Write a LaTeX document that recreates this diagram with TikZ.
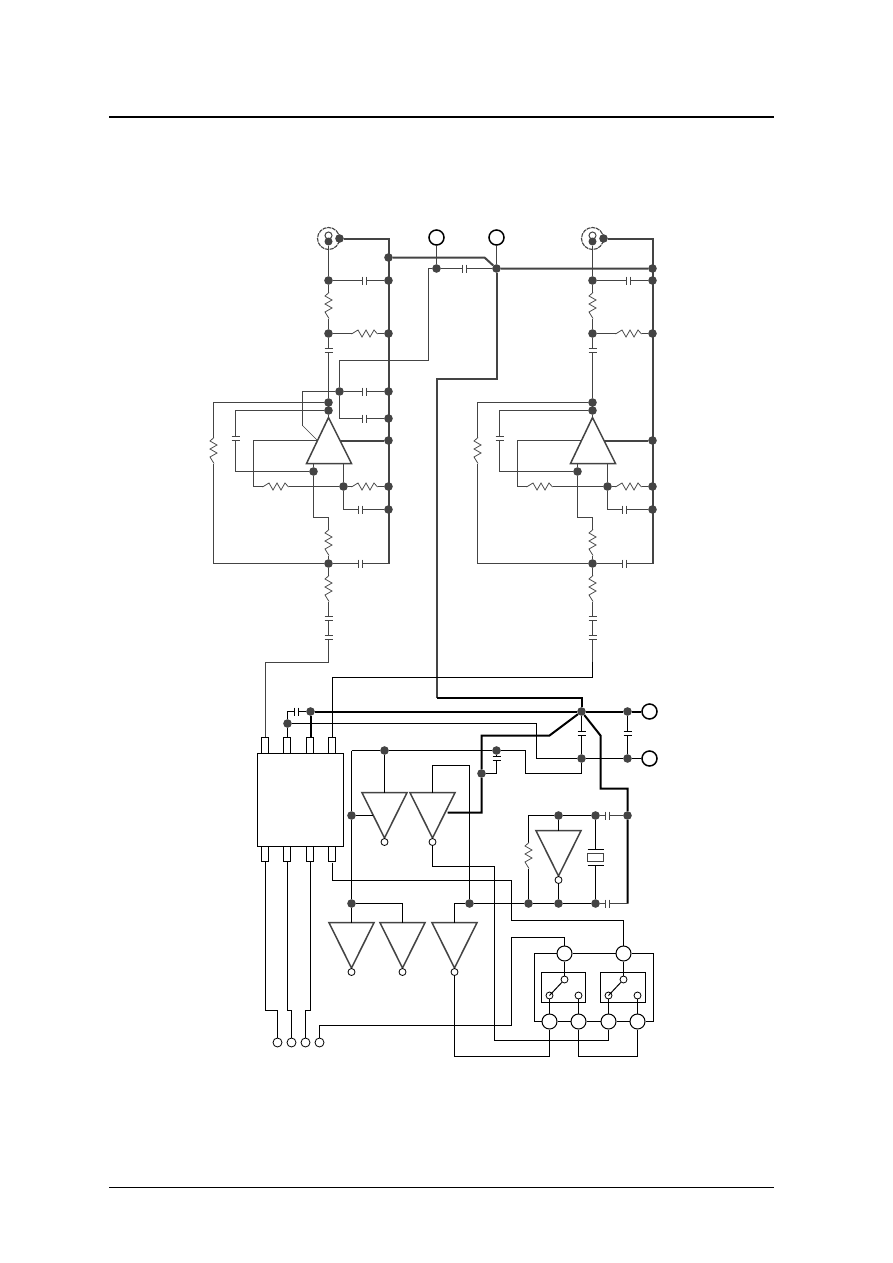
\documentclass[tikz,border=0pt]{standalone}
\usetikzlibrary{calc}
\definecolor{wiregray}{HTML}{444444}
\tikzset{
  wire/.style={line width=1pt},
  heavy/.style={line width=2pt},
  medium/.style={line width=1.5pt},
  dotnode/.style={circle,fill=wiregray,inner sep=0pt,minimum size=8.6pt},
  term/.style={circle,draw=black,fill=white,line width=1.5pt,inner sep=0pt,minimum size=15pt},
  cnode/.style={circle,draw=black,fill=white,line width=1pt,inner sep=0pt,minimum size=15pt},
  small/.style={circle,draw=black,fill=white,line width=0.8pt,inner sep=0pt,minimum size=7pt},
  pad/.style={circle,draw=black,fill=white,line width=0.8pt,inner sep=0pt,minimum size=9pt},
  pinbox/.style={rectangle,draw=black,fill=white,line width=1pt,inner sep=0pt,minimum width=7pt},
  tri/.style={draw=wiregray,line width=1.5pt,fill=white},
  res/.pic={
    \fill[white] (-13,-0.9) rectangle (13,0.9);
    \draw[line width=0.75pt] (-13,0.5) -- (-6.5,-3.5) -- (-2.5,3.5) -- (1.5,-3.5) -- (5.5,3.5) -- (9.5,-3.5) -- (13,0.5);
  },
  cap/.pic={
    \fill[white] (-2,-0.9) rectangle (2,0.9);
    \draw[wire] (-2,-4) -- (-2,4) (2,-4) -- (2,4);
  },
  crystal/.pic={
    \fill[white] (-13,-8) rectangle (13,8);
    \draw[wire] (-8,-8) -- (8,-8) (-8,8) -- (8,8);
    \draw[medium,draw=wiregray] (-8,-4) rectangle (8,4);
  }
}
\newcommand\snap[2]{\pgfmathsetmacro\sx{floor(#1)+0.5}\pgfmathsetmacro\sy{floor(#2)+0.5}}
\newcommand\noden[4]{\snap{#3}{#4}\node[#1] (#2) at (\sx,\sy) {};}
\newcommand\dotn[3]{\noden{dotnode}{#1}{#2}{#3}}
\newcommand\corner[3]{\snap{#2}{#3}\coordinate (#1) at (\sx,\sy);}
\newcommand\capH[3][]{\snap{#2}{#3}\pic[#1] at (\sx,\sy) {cap};}
\newcommand\capV[3][]{\snap{#2}{#3}\pic[rotate=90,#1] at (\sx,\sy) {cap};}
\newcommand\resH[3][]{\snap{#2}{#3}\pic[#1] at (\sx,\sy) {res};}
\newcommand\resV[3][]{\snap{#2}{#3}\pic[rotate=90,#1] at (\sx,\sy) {res};}
% downward inverter: name, centre x, top y
\newcommand\invtri[3]{%
  \snap{#2}{#3}%
  \coordinate (#1top) at (\sx,\sy);
  \coordinate (#1apex) at (\sx,\sy+45.5);
  \draw[tri] (\sx-22.6,\sy) -- (\sx+22.6,\sy) -- (#1apex) -- cycle;
  \node[small] (#1b) at (\sx,\sy+49.5) {};
}
\newcommand\channel[2]{%
\begin{scope}[xshift=#2pt]
  \noden{circle,draw=wiregray,dash pattern=on 4pt off 0.8pt,line width=1.1pt,inner sep=0pt,minimum size=22pt}{#1ring}{328}{238}
  \noden{circle,draw=wiregray,line width=1pt,inner sep=0pt,minimum size=7pt}{#1inner}{328}{235}
  \noden{dotnode,minimum size=8pt}{#1pin}{328}{241}
  \dotn{#1tab}{339}{238}
  \dotn{#1a}{328}{280} \dotn{#1ra}{388}{280}
  \dotn{#1b}{328}{333} \dotn{#1rb}{388}{333}
  \dotn{#1c}{328}{402} \dotn{#1d}{328}{410}
  \dotn{#1rc}{388}{440}
  \dotn{#1e}{343}{486} \dotn{#1re}{388}{486}
  \dotn{#1rf}{388}{509}
  \dotn{#1g}{313}{471}
  \dotn{#1h}{328}{563}
  \corner{#1railtop}{388}{238} \corner{#1railbot}{388}{563}
  \corner{#1apex}{328}{417}
  \corner{#1out}{338}{440} \corner{#1in}{317}{440}
  \corner{#1fb}{253}{440} \corner{#1fc}{253}{486}
  \corner{#1eu}{343}{463} \corner{#1ed}{343}{509}
  \corner{#1gu}{313}{463} \corner{#1gd}{313}{517} \corner{#1ge}{328}{517}
  \corner{#1hl}{213}{563} \corner{#1hu}{213}{402}
  \corner{#1dl}{235}{410} \corner{#1dd}{235}{471}
  \corner{#1tail}{328}{661}
  \corner{#1baseL}{306}{463} \corner{#1baseR}{351}{463}
  \begin{scope}[color=wiregray]
  \draw[wire] (#1pin) -- (#1a) -- (#1b) -- (#1c) -- (#1d) -- (#1apex);
  \draw[wire] (#1a) -- (#1ra);
  \draw[wire] (#1b) -- (#1rb);
  \draw[wire] (#1in) -- (#1fb) -- (#1fc) -- (#1e) -- (#1re);
  \draw[wire] (#1eu) -- (#1e) -- (#1ed) -- (#1rf);
  \draw[wire] (#1gu) -- (#1g) -- (#1gd) -- (#1ge) -- (#1h);
  \draw[wire] (#1h) -- (#1railbot);
  \draw[wire] (#1h) -- (#1hl) -- (#1hu) -- (#1c);
  \draw[wire] (#1d) -- (#1dl) -- (#1dd) -- (#1g);
  \draw[wire] (#1h) -- (#1tail);
  \draw[heavy] (#1tab) -- (#1railtop) -- (#1railbot);
  \draw[heavy] (#1out) -- (#1rc);
  \draw[tri] (#1baseL) -- (#1baseR) -- (#1apex) -- cycle;
  \capH{364}{280}
  \resV{328}{305}
  \resH{364}{333}
  \capV{328}{350}
  \resH{275}{486}
  \resH{364}{486}
  \capH{360}{509}
  \resV{328}{542}
  \capH{360}{563}
  \resV{213}{450}
  \capV{235}{438}
  \resV{328}{588}
  \capV{328}{618}
  \capV{328}{637}
  \end{scope}
\end{scope}}
\begin{document}
\begin{tikzpicture}[x=1pt,y=-1pt]
\useasboundingbox (0,0) rectangle (892,1263);
\fill[white] (0,0) rectangle (892,1263);
% page rules
\coordinate (ruleAl) at (109,117); \coordinate (ruleAr) at (774,117);
\coordinate (ruleBl) at (109,1187.5); \coordinate (ruleBr) at (774,1187.5);
\draw[black,line width=2pt] (ruleAl) -- (ruleAr);
\draw[black,line width=1pt] (ruleBl) -- (ruleBr);

% ---------- upper amplifiers
\channel{L}{0}
\channel{R}{264}

\begin{scope}[color=wiregray]
\noden{term}{J1}{436}{237}
\noden{term}{J2}{496}{237}
\dotn{bus1}{388}{257}
\dotn{bus2}{496}{268}
\dotn{J1d}{436}{268}
\dotn{Rbus}{652}{268}
\corner{kink}{484}{257}
\corner{c1}{496}{378} \corner{c2}{436}{378} \corner{c3}{436}{697}
\dotn{x1}{339}{391}
\dotn{r391}{388}{391}
\dotn{r418}{388}{418}
\corner{x2}{339}{418}
\corner{x3}{302}{391} \corner{x4}{302}{425}
\corner{x5}{339}{360} \corner{x6}{428}{360} \corner{x7}{428}{268}
\draw[wire] (x1) -- (r391);
\draw[wire] (x1) -- (x2) -- (r418);
\draw[wire] (x1) -- (x3) -- (x4);
\draw[line width=0.7pt] (x4) -- (Lin);
\draw[wire] (x1) -- (x5) -- (x6) -- (x7) -- (J1d);
\draw[wire] (J1) -- (J1d) -- (bus2);
\draw[medium] (J2) -- (bus2);
\draw[heavy] (bus1) -- (kink) -- (bus2) -- (Rbus);
\draw[heavy] (bus2) -- (c1) -- (c2) -- (c3);
\capH{364}{391}
\capH{364}{418}
\capH{464}{268}
\end{scope}

% ---------- lower section
\begin{scope}[color=black]
\node[rectangle,draw=black,fill=white,line width=1pt,inner sep=0pt,minimum width=86pt,minimum height=93pt] (chip) at (300.5,800) {};
\foreach \n/\xx in {1/265,2/287,3/310,4/332}{
  \node[pinbox,minimum height=16pt] (pT\n) at (\xx,745.5) {};
  \node[pinbox,minimum height=15pt] (pB\n) at (\xx,854) {};
}
\noden{term}{out1}{649}{711}
\noden{term}{out2}{649}{758}
\dotn{hub}{581}{711} \dotn{d627}{627}{711}
\dotn{d2}{581}{758} \dotn{d3}{627}{758}
\dotn{dp3}{310}{711} \dotn{dp2}{287}{723}
\dotn{v2}{384}{750} \dotn{v3}{496}{750}
\dotn{v4}{351}{815} \dotn{v5}{351}{903}
\dotn{d481}{481}{773}
\dotn{d815}{627}{815}
\dotn{d469}{469}{903} \dotn{d529}{528}{903} \dotn{d558}{558}{903} \dotn{d595b}{595}{903}
\dotn{o558}{558}{815} \dotn{d595}{595}{815}
\corner{v1}{351}{750}
\corner{h1}{536}{723} \corner{h2}{536}{758}
\corner{g1}{287}{711}
\corner{k1}{549}{735} \corner{k2}{481}{735} \corner{k3}{481}{812} \corner{k4}{447}{812}
\corner{m1}{600}{735} \corner{m2}{600}{788} \corner{m3}{627}{788} \corner{m4}{627}{903}
\corner{n1}{525}{750} \corner{n2}{525}{773} \corner{n3}{581}{773}
\corner{n4}{496}{773}
\corner{t1}{432}{765} \corner{t2}{469}{765}
\corner{w1}{372}{815}
\corner{w2}{402}{903}
\corner{w3}{454}{903}
\corner{o1}{528}{815}
\corner{c4}{581}{697}
% wires from the channels
\corner{Lt0}{328}{662} \corner{Lt1}{265}{662}
\corner{Rt0}{592}{677} \corner{Rt1}{332}{677}
\draw[wire,draw=wiregray] (Ltail) -- (Lt0) -- (Lt1) -- (Lt1 |- pT1.north);
\draw[wire] (Rtail) -- (Rt0) -- (Rt1) -- (Rt1 |- pT4.north);
\draw[heavy] (c3) -- (c4) -- (hub);
% inverters
\invtri{a}{384}{792}
\invtri{e}{432}{792}
\invtri{f}{351}{922}
\invtri{g}{402}{922}
\invtri{k}{454}{922}
\invtri{o}{558}{830}
% power wires
\draw[heavy] (dp3) -- (hub) -- (d627) -- (out1);
\draw[heavy] (dp3) -- (dp3 |- pT3.north);
\draw[wire] (dp2) -- (dp2 |- pT2.north);
\draw[wire] (dp2) -- (h1) -- (h2) -- (d2) -- (d3) -- (out2);
\draw[wire] (hub) -- (d2);
\draw[wire] (d627) -- (d3);
\draw[wire] (dp2) -- (g1) -- (dp3);
\draw[heavy] (hub) -- (k1) -- (k2) -- (d481) -- (k3) -- (k4);
\draw[heavy] (hub) -- (m1) -- (m2) -- (m3) -- (d815) -- (m4);
\draw[wire] (v1) -- (v2) -- (v3) -- (n1) -- (n2) -- (n3) -- (d2);
\draw[wire] (v3) -- (n4) -- (d481);
\draw[wire] (v1) -- (v4) -- (v5) -- (ftop);
\draw[wire] (v2) -- (atop);
\draw[wire] (v4) -- (w1);
\draw[wire] (v5) -- (w2) -- (gtop);
\draw[wire] (etop) -- (t1) -- (t2) -- (d469);
\draw[wire] (ktop) -- (w3) -- (d469) -- (d529) -- (d558) -- (d595b);
\draw[wire] (d529) -- (o1) -- (o558) -- (d595);
\draw[wire] (o558) -- (otop);
\draw[wire] (ob) -- (d558);
\draw[wire] (d595) -- (d595b);
\draw[wire,draw=wiregray] (d815) -- (d595);
\draw[wire,draw=wiregray] (m4) -- (d595b);
\capV{581}{733}
\capV{627}{733}
\capH{296}{711}
\capV{496}{758}
\capH[color=wiregray]{607}{815}
\capH[color=wiregray]{607}{903}
\resV[color=wiregray]{528}{855}
\snap{595}{857}\pic at (\sx,\sy) {crystal};
% switch section
\noden{cnode}{S1}{564}{953}
\noden{cnode}{S2}{623}{953}
\noden{cnode}{C1}{549}{1021}
\noden{cnode}{C2}{578}{1021}
\noden{cnode}{C3}{608}{1021}
\noden{cnode}{C4}{637}{1021}
\node[rectangle,draw=black,line width=1pt,inner sep=0pt,minimum width=44pt,minimum height=30pt] (box1) at (563.5,987.5) {};
\node[rectangle,draw=black,line width=1pt,inner sep=0pt,minimum width=45pt,minimum height=30pt] (box2) at (623,987.5) {};
\noden{small}{s1a}{564}{979}
\noden{small}{s1b}{549}{995}
\noden{small}{s1c}{578}{995}
\noden{small}{s2a}{623}{979}
\noden{small}{s2b}{608}{995}
\noden{small}{s2c}{637}{995}
\noden{pad}{P1}{277}{1042}
\noden{pad}{P2}{291}{1042}
\noden{pad}{P3}{305}{1042}
\noden{pad}{P4}{319}{1042}
\draw[wire] (S1) -- (s1a) (s1b) -- (C1) (s1c) -- (C2);
\draw[wire] (S2) -- (s2a) (s2b) -- (C3) (s2c) -- (C4);
\draw[wire] (s1a) -- (s1b.center);
\draw[wire] (s2a) -- (s2b.center);
\draw[wire] (S1) -- (S2);
\corner{u1}{534}{953} \corner{u2}{534}{1021}
\corner{u3}{653}{953} \corner{u4}{653}{1021}
\draw[wire] (S1) -- (u1) -- (u2) -- (C1) -- (C2) -- (C3) -- (C4) -- (u4) -- (u3) -- (S2);
% long signal wires
\corner{y1}{432}{866} \corner{y2}{494}{866} \corner{y3}{494}{1040} \corner{y4}{608}{1040}
\draw[wire] (eb) -- (y1) -- (y2) -- (y3) -- (y4) -- (C3);
\corner{z0}{332}{862} \corner{z1}{332}{880} \corner{z2}{511}{880} \corner{z3}{511}{920} \corner{z4}{623}{920}
\draw[wire] (z0) -- (z1) -- (z2) -- (z3) -- (z4) -- (S2);
\corner{q1}{454}{1056} \corner{q2}{549}{1056}
\draw[wire] (kb) -- (q1) -- (q2) -- (C1);
\corner{q3}{578}{1056} \corner{q4}{637}{1056}
\draw[wire] (C2) -- (q3) -- (q4) -- (C4);
\corner{b1a}{265}{1010} \corner{b1b}{277}{1010}
\corner{b2a}{287}{1010} \corner{b2b}{291}{1010}
\corner{b3a}{310}{1010} \corner{b3b}{305}{1010}
\draw[wire] (b1a |- pB1.south) -- (b1a) -- (b1b) -- (P1);
\draw[wire] (b2a |- pB2.south) -- (b2a) -- (b2b) -- (P2);
\draw[wire] (b3a |- pB3.south) -- (b3a) -- (b3b) -- (P3);
\corner{p1}{319}{1025} \corner{p2}{511}{1025} \corner{p3}{511}{937} \corner{p4}{564}{937}
\draw[wire] (P4) -- (p1) -- (p2) -- (p3) -- (p4) -- (S1);
\end{scope}
\end{tikzpicture}
\end{document}
